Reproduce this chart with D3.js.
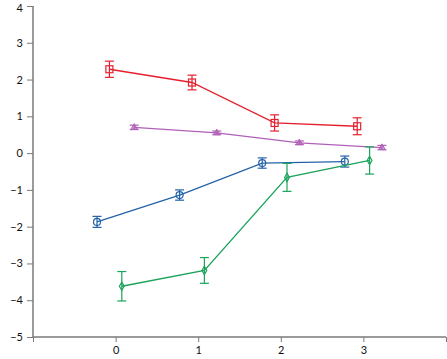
<!DOCTYPE html>
<html><head><meta charset="utf-8">
<script src="https://cdn.jsdelivr.net/npm/d3@7"></script>
<style>body{margin:0;background:#fff}svg{display:block}</style>
</head><body>
<svg id="c" width="447" height="359"></svg>
<script>
const xs = [0, 1, 2, 3];
const seriesNames = ["red", "purple", "blue", "green"];
const redY = [2.28, 1.92, 0.82, 0.73];
const redErr = [0.22, 0.2, 0.22, 0.23];
const purpleY = [0.7, 0.55, 0.28, 0.15];
const purpleErr = [0.06, 0.05, 0.05, 0.06];
const blueY = [-1.87, -1.14, -0.27, -0.23];
const blueErr = [0.15, 0.14, 0.14, 0.15];
const greenY = [-3.62, -3.19, -0.66, -0.2];
const greenErr = [0.4, 0.35, 0.38, 0.37];
const offsets = [-0.075, 0.225, -0.225, 0.075];
const colors = ["#e5202e", "#b060b8", "#2462a8", "#1aa35a"];
const markers = ["square", "triangle", "circle", "diamond"];
const xTicks = [-1, 0, 1, 2, 3, 4];
const xLabels = ["", "0", "1", "2", "3", ""];
const yTicks = [-5, -4, -3, -2, -1, 0, 1, 2, 3, 4];

const allY = [redY, purpleY, blueY, greenY];
const allErr = [redErr, purpleErr, blueErr, greenErr];

const svg = d3.select("#c");
const x = d3.scaleLinear().domain([-1, 4]).range([33, 446]);
const y = d3.scaleLinear().domain([-5, 4]).range([337, 6]);

const axisColor = "#7a7a7a";
const gy = svg.append("g").attr("transform", `translate(${x(-1)},0)`)
  .call(d3.axisLeft(y).tickValues(yTicks).tickSize(6).tickPadding(4)
    .tickFormat(d => d < 0 ? "\u2212" + Math.abs(d) : d));
const gx = svg.append("g").attr("transform", `translate(0,${y(-5)})`)
  .call(d3.axisBottom(x).tickValues(xTicks).tickSize(5).tickPadding(4)
    .tickFormat((d, i) => xLabels[i]));
[gx, gy].forEach(g => {
  g.select(".domain").attr("stroke", axisColor).attr("stroke-width", 1.5).attr("d", null);
  g.selectAll(".tick line").attr("stroke", axisColor).attr("stroke-width", 1);
  g.selectAll("text").attr("fill", "#111").style("font-family", "Lato, 'DejaVu Sans', sans-serif").style("font-size", "11px");
});
gy.select(".domain").attr("d", `M0,${y(4)}V${y(-5)}`);
gx.select(".domain").attr("d", `M${x(-1)},0H${x(4)}`);
gy.selectAll(".tick").filter(d => d === 4).select("text").attr("dy", "0.5em");

const line = d3.line().x(d => x(d.x)).y(d => y(d.y));

seriesNames.forEach((name, si) => {
  const c = colors[si];
  const pts = xs.map((xv, i) => ({ x: xv + offsets[si], y: allY[si][i], e: allErr[si][i] }));
  const g = svg.append("g");
  g.append("path").attr("d", line(pts)).attr("fill", "none").attr("stroke", c).attr("stroke-width", 1.3);
  const cap = 4.5;
  pts.forEach(p => {
    const px = x(p.x), y1 = y(p.y + p.e), y2 = y(p.y - p.e);
    g.append("line").attr("x1", px).attr("x2", px).attr("y1", y1).attr("y2", y2).attr("stroke", c).attr("stroke-width", 1.2);
    g.append("line").attr("x1", px - cap).attr("x2", px + cap).attr("y1", y1).attr("y2", y1).attr("stroke", c).attr("stroke-width", 1.2);
    g.append("line").attr("x1", px - cap).attr("x2", px + cap).attr("y1", y2).attr("y2", y2).attr("stroke", c).attr("stroke-width", 1.2);
    const m = markers[si];
    const py = y(p.y);
    if (m === "square") {
      g.append("rect").attr("x", px - 3.5).attr("y", py - 3.5).attr("width", 7).attr("height", 7)
        .attr("fill", "none").attr("stroke", c).attr("stroke-width", 1.2);
    } else if (m === "circle") {
      g.append("circle").attr("cx", px).attr("cy", py).attr("r", 3.5).attr("fill", "none").attr("stroke", c).attr("stroke-width", 1.2);
    } else if (m === "diamond") {
      g.append("path").attr("d", d3.symbol(d3.symbolDiamond, 20)()).attr("transform", `translate(${px},${py})`)
        .attr("fill", "none").attr("stroke", c).attr("stroke-width", 1.2);
    } else {
      g.append("path").attr("d", d3.symbol(d3.symbolTriangle, 18)()).attr("transform", `translate(${px},${py})`)
        .attr("fill", c).attr("fill-opacity", 0.6).attr("stroke", c).attr("stroke-width", 1);
    }
  });
});
</script>
</body></html>
